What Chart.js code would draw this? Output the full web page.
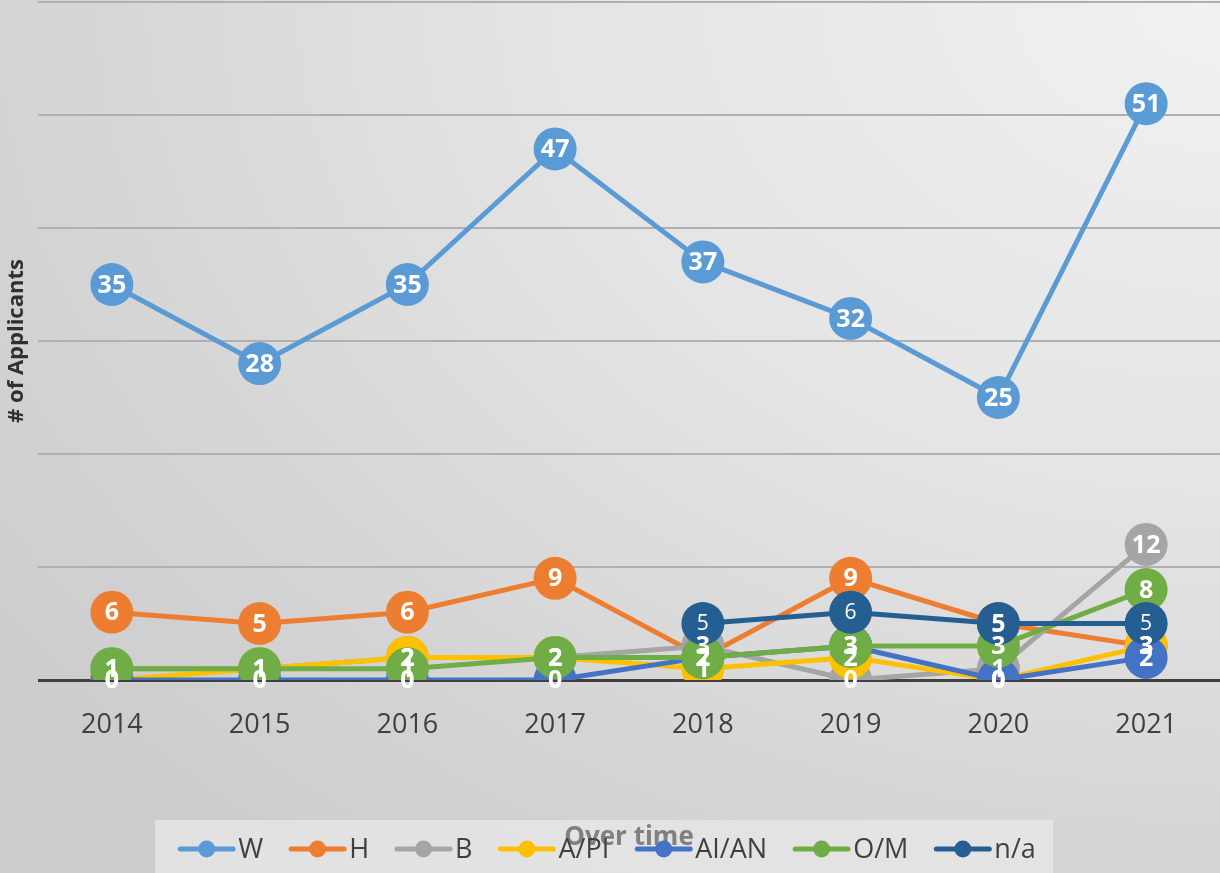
<!DOCTYPE html>
<html>
<head>
<meta charset="utf-8">
<script src="https://cdn.jsdelivr.net/npm/chart.js@4/dist/chart.umd.min.js"></script>
<style>
  html, body { margin: 0; padding: 0; }
  body {
    width: 1220px; height: 873px; overflow: hidden;
    background: radial-gradient(ellipse 1500px 1100px at 100% 0%, #f1f1f1 0%, #e4e4e4 45%, #d2d2d2 85%, #cdcdcd 100%);
  }
  canvas { display: block; }
</style>
</head>
<body>
<canvas id="c" width="1220" height="873"></canvas>
<script>
const categories = ['2014', '2015', '2016', '2017', '2018', '2019', '2020', '2021'];
const seriesNames = ['W', 'H', 'B', 'A/PI', 'AI/AN', 'O/M', 'n/a'];
const W    = [35, 28, 35, 47, 37, 32, 25, 51];
const H    = [6, 5, 6, 9, 2, 9, 5, 3];
const B    = [1, 1, 2, 2, 3, 0, 1, 12];
const API  = [0, 1, 2, 2, 1, 2, 0, 3];
const AIAN = [0, 0, 0, 0, 2, 3, 0, 2];
const OM   = [1, 1, 1, 2, 2, 3, 3, 8];
const NA   = [null, null, null, null, 5, 6, 5, 5];
const yTicks = [0, 10, 20, 30, 40, 50, 60];

const seriesData = [W, H, B, API, AIAN, OM, NA];
const colors = ['#5B9BD5', '#ED7D31', '#A5A5A5', '#FFC000', '#4472C4', '#70AD47', '#255E91'];
const FONT = "'Open Sans', 'DejaVu Sans', sans-serif";

const datasets = seriesData.map((d, i) => ({
  label: seriesNames[i],
  data: d,
  borderColor: colors[i],
  backgroundColor: colors[i],
  pointBackgroundColor: colors[i],
  pointBorderColor: colors[i],
  pointBorderWidth: 0,
  pointRadius: 21.5,
  pointHoverRadius: 21.5,
  borderWidth: 5,
  tension: 0,
  spanGaps: false,
  order: seriesData.length - i,
  labelFont: i === 6 ? "400 21px " + FONT : "700 25px " + FONT
}));

const labelPlugin = {
  id: 'pointLabels',
  afterDatasetsDraw(chart) {
    const ctx = chart.ctx;
    ctx.save();
    ctx.textAlign = 'center';
    ctx.textBaseline = 'middle';
    ctx.fillStyle = '#ffffff';
    chart.data.datasets.forEach((ds, i) => {
      const meta = chart.getDatasetMeta(i);
      ctx.font = ds.labelFont;
      meta.data.forEach((pt, j) => {
        const v = ds.data[j];
        if (v === null || v === undefined) return;
        ctx.fillText(String(v), pt.x, pt.y + 1);
      });
    });
    ctx.restore();
  }
};

const legendPlugin = {
  id: 'officeLegend',
  beforeDraw(chart) {
    const ctx = chart.ctx;
    ctx.save();
    ctx.fillStyle = 'rgba(232,232,232,0.75)';
    ctx.fillRect(155, 820, 898, 53);
    ctx.restore();
  },
  afterDraw(chart) {
    const ctx = chart.ctx;
    ctx.save();
    ctx.font = "400 27px " + FONT;
    ctx.textBaseline = 'middle';
    const markerW = 57, gapText = 3, gapItem = 26;
    const widths = chart.data.datasets.map(ds => markerW + gapText + ctx.measureText(ds.label).width);
    const total = widths.reduce((a, b) => a + b, 0) + gapItem * (widths.length - 1);
    let x = 607 - total / 2;
    const cy = 849;
    chart.data.datasets.forEach((ds, i) => {
      ctx.strokeStyle = ds.borderColor;
      ctx.lineWidth = 5;
      ctx.lineCap = 'round';
      ctx.beginPath();
      ctx.moveTo(x + 2, cy);
      ctx.lineTo(x + markerW - 2, cy);
      ctx.stroke();
      ctx.fillStyle = ds.borderColor;
      ctx.beginPath();
      ctx.arc(x + markerW / 2, cy, 8.5, 0, Math.PI * 2);
      ctx.fill();
      ctx.fillStyle = '#404040';
      ctx.textAlign = 'left';
      ctx.fillText(ds.label, x + markerW + gapText, cy + 1);
      x += widths[i] + gapItem;
    });
    ctx.restore();
  }
};

new Chart(document.getElementById('c'), {
  type: 'line',
  data: { labels: categories, datasets },
  options: {
    responsive: false,
    animation: false,
    events: [],
    layout: { autoPadding: false, padding: { top: 2, right: 0, bottom: 0, left: 0 } },
    plugins: {
      legend: { display: false },
      tooltip: { enabled: false }
    },
    scales: {
      x: {
        offset: true,
        grid: { display: false },
        border: { display: false },
        ticks: {
          color: '#404040',
          font: { family: FONT, size: 27 },
          padding: 21
        },
        title: {
          display: true,
          text: 'Over time',
          color: '#808080',
          font: { family: FONT, size: 26, weight: 'bold' },
          padding: { top: 0, bottom: 20 }
        },
        afterFit(scale) { scale.height = 193; }
      },
      y: {
        min: 0,
        max: 60,
        afterBuildTicks(scale) { scale.ticks = yTicks.map(v => ({ value: v })); },
        ticks: { display: false },
        grid: {
          drawTicks: false,
          color: c => (c.tick && c.tick.value === 0) ? '#404040' : '#b0b0b0',
          lineWidth: c => (c.tick && c.tick.value === 0) ? 3 : 2
        },
        border: { display: false },
        title: {
          display: true,
          text: '# of Applicants',
          color: '#303030',
          font: { family: FONT, size: 22, weight: 'bold' },
          padding: { top: 4, bottom: 0 }
        },
        afterFit(scale) { scale.width = 38; }
      }
    }
  },
  plugins: [labelPlugin, legendPlugin]
});
</script>
</body>
</html>
